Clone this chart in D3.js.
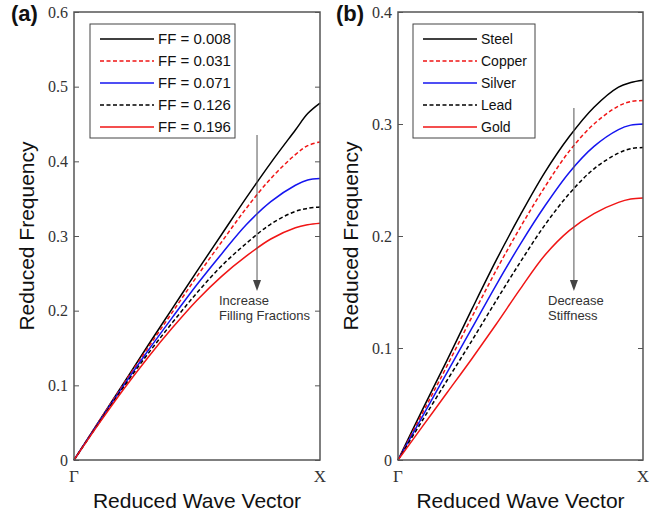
<!DOCTYPE html>
<html>
<head>
<meta charset="utf-8">
<script src="https://cdn.jsdelivr.net/npm/d3@7"></script>
<style>
  body { margin: 0; background: #fff; }
  svg { display: block; }
</style>
</head>
<body>
<div id="chart"></div>
<script>
const width = 669;
const height = 515;

// reduced wave vector, Gamma (0) to X (1)
const kPoints = [0, 0.1, 0.2, 0.3, 0.4, 0.5, 0.6, 0.7, 0.8, 0.9, 0.95, 1];

// panel (a): filling fractions
const ffLabels = ["FF = 0.008", "FF = 0.031", "FF = 0.071", "FF = 0.126", "FF = 0.196"];
const ff008 = [0, 0.051, 0.102, 0.153, 0.203, 0.253, 0.302, 0.351, 0.398, 0.442, 0.464, 0.478];
const ff031 = [0, 0.051, 0.101, 0.150, 0.198, 0.246, 0.292, 0.337, 0.377, 0.409, 0.421, 0.426];
const ff071 = [0, 0.050, 0.099, 0.146, 0.191, 0.235, 0.276, 0.315, 0.346, 0.368, 0.375, 0.377];
const ff126 = [0, 0.049, 0.097, 0.142, 0.184, 0.224, 0.260, 0.290, 0.316, 0.333, 0.337, 0.339];
const ff196 = [0, 0.048, 0.094, 0.137, 0.177, 0.214, 0.246, 0.273, 0.296, 0.311, 0.315, 0.317];

// panel (b): materials
const matLabels = ["Steel", "Copper", "Silver", "Lead", "Gold"];
const steel  = [0, 0.045, 0.089, 0.134, 0.178, 0.219, 0.257, 0.289, 0.315, 0.333, 0.337, 0.339];
const copper = [0, 0.042, 0.084, 0.127, 0.169, 0.208, 0.244, 0.276, 0.300, 0.316, 0.320, 0.321];
const silver = [0, 0.039, 0.078, 0.117, 0.156, 0.193, 0.227, 0.257, 0.280, 0.295, 0.299, 0.300];
const lead   = [0, 0.0355, 0.071, 0.106, 0.142, 0.177, 0.210, 0.238, 0.260, 0.274, 0.278, 0.279];
const gold   = [0, 0.030, 0.060, 0.090, 0.121, 0.153, 0.183, 0.205, 0.220, 0.230, 0.233, 0.234];

const yTicksA = [0, 0.1, 0.2, 0.3, 0.4, 0.5, 0.6];
const yTicksB = [0, 0.1, 0.2, 0.3, 0.4];
const xTickLabels = ["\u0393", "X"];

// line styles shared by both panels
const styles = [
  { color: "#000", dash: null },
  { color: "#f01515", dash: "4,2.5" },
  { color: "#1515f0", dash: null },
  { color: "#000", dash: "4,2.5" },
  { color: "#f01515", dash: null },
];

const svg = d3
  .select("#chart")
  .append("svg")
  .attr("width", width)
  .attr("height", height);

function drawPanel(opt) {
  const x = d3.scaleLinear().domain([0, 1]).range([opt.left, opt.right]);
  const y = d3.scaleLinear().domain([0, opt.yMax]).range([opt.bottom, opt.top]);
  const g = svg.append("g");
  const fmt = (d) => (d === 0 ? "0" : d3.format(".1f")(d));

  // y axis on the left, ticks pointing in
  const left = g
    .append("g")
    .attr("transform", `translate(${opt.left},0)`)
    .call(d3.axisLeft(y).tickValues(opt.yTicks).tickFormat(fmt).tickSize(-5).tickPadding(6));
  left.select(".domain").remove();
  left.selectAll("line").attr("stroke", "#555");
  left
    .selectAll("text")
    .attr("font-family", "'Liberation Serif', serif")
    .attr("font-size", 16)
    .attr("fill", "#333");

  // mirrored ticks on the right
  const right = g
    .append("g")
    .attr("transform", `translate(${opt.right},0)`)
    .call(d3.axisRight(y).tickValues(opt.yTicks).tickFormat("").tickSize(-5));
  right.select(".domain").remove();
  right.selectAll("line").attr("stroke", "#555");

  // x tick labels
  g.selectAll(".xlab")
    .data(xTickLabels)
    .enter()
    .append("text")
    .attr("x", (d, i) => x(i))
    .attr("y", opt.bottom + 22)
    .attr("text-anchor", "middle")
    .attr("font-family", "'Liberation Serif', serif")
    .attr("font-size", 17)
    .attr("fill", "#333")
    .text((d) => d);

  // curves
  const line = d3
    .line()
    .x((d, i) => x(kPoints[i]))
    .y((d) => y(d))
    .curve(d3.curveCatmullRom.alpha(0.5));

  g.selectAll(".curve")
    .data(opt.series)
    .enter()
    .append("path")
    .attr("d", (d) => line(d))
    .attr("fill", "none")
    .attr("stroke", (d, i) => styles[i].color)
    .attr("stroke-width", 1.5)
    .attr("stroke-dasharray", (d, i) => styles[i].dash);

  // plot box
  g.append("rect")
    .attr("x", opt.left)
    .attr("y", opt.top)
    .attr("width", opt.right - opt.left)
    .attr("height", opt.bottom - opt.top)
    .attr("fill", "none")
    .attr("stroke", "#555")
    .attr("stroke-width", 1.5);

  // legend
  const lg = g.append("g").attr("transform", `translate(${opt.legend.x},${opt.top + 12})`);
  lg.append("rect")
    .attr("x", 0)
    .attr("y", 0)
    .attr("width", opt.legend.w)
    .attr("height", 114)
    .attr("fill", "#fff")
    .attr("stroke", "#444")
    .attr("stroke-width", 1);
  const rows = lg
    .selectAll(".row")
    .data(opt.labels)
    .enter()
    .append("g")
    .attr("transform", (d, i) => `translate(0,${15 + i * 22})`);
  rows
    .append("line")
    .attr("x1", 10)
    .attr("x2", 64)
    .attr("stroke", (d, i) => styles[i].color)
    .attr("stroke-width", 1.5)
    .attr("stroke-dasharray", (d, i) => styles[i].dash);
  rows
    .append("text")
    .attr("x", 68)
    .attr("dy", "0.36em")
    .attr("font-family", "'Liberation Sans', Arial, sans-serif")
    .attr("font-size", opt.legend.fs)
    .attr("fill", "#111")
    .text((d) => d);

  // arrow with note
  const ax = x(opt.arrow.k);
  g.append("line")
    .attr("x1", ax)
    .attr("x2", ax)
    .attr("y1", opt.arrow.y0)
    .attr("y2", 284)
    .attr("stroke", "#555")
    .attr("stroke-width", 1);
  g.append("path")
    .attr("d", `M${ax - 4},280 L${ax + 4},280 L${ax},291 Z`)
    .attr("fill", "#444");
  g.selectAll(".note")
    .data(opt.arrow.text)
    .enter()
    .append("text")
    .attr("x", opt.arrow.tx)
    .attr("y", (d, i) => 305 + i * 15)
    .attr("font-family", "'Liberation Sans', Arial, sans-serif")
    .attr("font-size", 13)
    .attr("fill", "#333")
    .text((d) => d);

  // axis titles
  g.append("text")
    .attr("x", (opt.left + opt.right) / 2)
    .attr("y", 508)
    .attr("text-anchor", "middle")
    .attr("font-family", "'Liberation Sans', Arial, sans-serif")
    .attr("font-size", 21)
    .attr("fill", "#111")
    .text("Reduced Wave Vector");
  g.append("text")
    .attr("transform", `translate(${opt.yLabelX},236) rotate(-90)`)
    .attr("text-anchor", "middle")
    .attr("font-family", "'Liberation Sans', Arial, sans-serif")
    .attr("font-size", 21)
    .attr("fill", "#111")
    .text("Reduced Frequency");

  // panel letter
  g.append("text")
    .attr("x", opt.letterX)
    .attr("y", 21)
    .attr("font-family", "'Liberation Sans', Arial, sans-serif")
    .attr("font-weight", "bold")
    .attr("font-size", 22)
    .attr("fill", "#111")
    .text(opt.letter);
}

drawPanel({
  left: 74, right: 320, top: 12, bottom: 460,
  yMax: 0.6, yTicks: yTicksA,
  series: [ff008, ff031, ff071, ff126, ff196],
  labels: ffLabels,
  legend: { x: 90, w: 145, fs: 15 },
  arrow: { k: 0.744, y0: 135, tx: 219, text: ["Increase", "Filling Fractions"] },
  yLabelX: 34, letterX: 11, letter: "(a)",
});

drawPanel({
  left: 398, right: 643, top: 12, bottom: 460,
  yMax: 0.4, yTicks: yTicksB,
  series: [steel, copper, silver, lead, gold],
  labels: matLabels,
  legend: { x: 413, w: 122, fs: 14 },
  arrow: { k: 0.718, y0: 108, tx: 548, text: ["Decrease", "Stiffness"] },
  yLabelX: 358, letterX: 336, letter: "(b)",
});
</script>
</body>
</html>
